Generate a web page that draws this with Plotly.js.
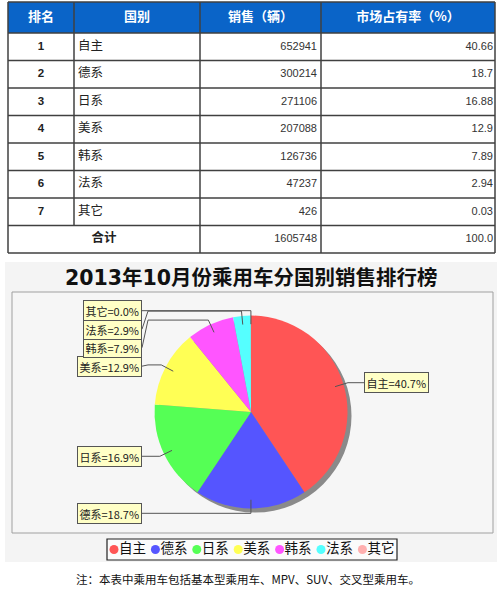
<!DOCTYPE html>
<html>
<head>
<meta charset="utf-8">
<script src="https://cdn.plot.ly/plotly-3.0.1.min.js"></script>
<style>
html, body { margin: 0; padding: 0; background: #fff; }
#chart { width: 500px; height: 591px; }
</style>
</head>
<body>
<div id="chart"></div>
<script>
// table + pie data
const headers = ['排名', '国别', '销售（辆）', '市场占有率（%）'];
const ranks = [1, 2, 3, 4, 5, 6, 7];
const countries = ['自主', '德系', '日系', '美系', '韩系', '法系', '其它'];
const sales = [652941, 300214, 271106, 207088, 126736, 47237, 426];
const shares = ['40.66', '18.7', '16.88', '12.9', '7.89', '2.94', '0.03'];
const totalLabel = '合计';
const totalSales = 1605748;
const totalShare = '100.0';
const chartTitle = '2013年10月份乘用车分国别销售排行榜';
const noteText = '注：本表中乘用车包括基本型乘用车、MPV、SUV、交叉型乘用车。';

const sliceColors = ['#ff5555', '#5555ff', '#55ff55', '#ffff55', '#ff55ff', '#55ffff', '#ffafaf'];
const cjk = '"Noto Sans CJK SC", sans-serif';
const num = '"Liberation Sans", "DejaVu Sans", sans-serif';

const W = 500, H = 591;

// ---- table geometry (pixel axis) ----
const colX = [8, 74, 200, 321, 495];
const headTop = 2, headBot = 33, rowH = 27.5;
const rowTop = i => headBot + i * rowH;
const rowMid = i => rowTop(i) + rowH / 2;
const lineCol = '#404040';

let shapes = [];
let traces = [];
let annotations = [];

shapes.push({type: 'rect', layer: 'below', xref: 'x', yref: 'y',
  x0: colX[0], x1: colX[4], y0: headTop, y1: headBot,
  fillcolor: '#0a64c8', line: {width: 0}});

for (let i = 0; i <= 8; i++) {
  const y = i === 0 ? headBot : rowTop(i);
  shapes.push({type: 'line', layer: 'below', xref: 'x', yref: 'y',
    x0: colX[0], x1: colX[4], y0: y, y1: y, line: {color: lineCol, width: 1.5}});
}
shapes.push({type: 'line', layer: 'below', xref: 'x', yref: 'y',
  x0: colX[0], x1: colX[4], y0: headTop, y1: headTop, line: {color: lineCol, width: 1.5}});
colX.forEach((x, k) => {
  shapes.push({type: 'line', layer: 'below', xref: 'x', yref: 'y',
    x0: x, x1: x, y0: headTop, y1: k === 1 ? rowTop(7) : rowTop(8),
    line: {color: lineCol, width: 1.5}});
});

const textTrace = (x, y, text, pos, font) => ({
  type: 'scatter', mode: 'text', x: x, y: y, text: text,
  textposition: pos, textfont: font, hoverinfo: 'skip',
  showlegend: false, cliponaxis: false
});

const rowsY = ranks.map((r, i) => rowMid(i));

traces.push(textTrace(
  headers.map((h, k) => (colX[k] + colX[k + 1]) / 2),
  headers.map(() => (headTop + headBot) / 2),
  headers, 'middle center',
  {family: cjk, size: 13, color: '#ffffff', weight: 'bold'}));

traces.push(textTrace(ranks.map(() => (colX[0] + colX[1]) / 2), rowsY,
  ranks.map(String), 'middle center',
  {family: num, size: 11.5, color: '#222', weight: 'bold'}));

traces.push(textTrace(countries.map(() => colX[1] + 4), rowsY,
  countries, 'middle right', {family: cjk, size: 12.5, color: '#222'}));

traces.push(textTrace([...sales, totalSales].map(() => colX[3] - 4),
  [...rowsY, rowMid(7)], [...sales, totalSales].map(String), 'middle left',
  {family: num, size: 11, color: '#333'}));

traces.push(textTrace([...shares, totalShare].map(() => colX[4] - 2),
  [...rowsY, rowMid(7)], [...shares, totalShare], 'middle left',
  {family: num, size: 11, color: '#333'}));

traces.push(textTrace([(colX[0] + colX[2]) / 2], [rowMid(7)], [totalLabel],
  'middle center', {family: cjk, size: 12.5, color: '#222', weight: 'bold'}));

// ---- chart panel ----
shapes.push({type: 'rect', layer: 'below', xref: 'x', yref: 'y',
  x0: 5, x1: 497, y0: 262, y1: 562, fillcolor: '#f4f4f4', line: {width: 0}});
shapes.push({type: 'rect', layer: 'below', xref: 'x', yref: 'y',
  x0: 12, x1: 493, y0: 292, y1: 533, fillcolor: '#f6f6f6',
  line: {color: '#a0a0a0', width: 1}});

annotations.push({xref: 'x', yref: 'y', x: 251, y: 278, text: chartTitle,
  showarrow: false, font: {family: '"DejaVu Sans", ' + cjk, size: 20.5, color: '#111', weight: 'bold'}});

// pie
const cx = 251, cy = 412, R = 96.5, sh = 4;
const dom = (x, y) => ({
  x: [(x - R) / W, (x + R) / W],
  y: [1 - (y + R) / H, 1 - (y - R) / H]
});
traces.push({type: 'pie', values: [totalSales], labels: ['shadow'],
  marker: {colors: ['#8a8a8a'], line: {width: 0}}, textinfo: 'none',
  hoverinfo: 'skip', showlegend: false, sort: false, domain: dom(cx + sh, cy + sh)});
traces.push({type: 'pie', values: sales, labels: countries, sort: false,
  direction: 'clockwise', rotation: 0, textinfo: 'none', hoverinfo: 'skip',
  showlegend: false, marker: {colors: sliceColors, line: {width: 0}},
  domain: dom(cx, cy)});

// slice labels with JFreeChart-like links
const total = sales.reduce((a, b) => a + b, 0);
let cum = 0;
const labelRecs = sales.map((v, i) => {
  const th = (cum + v / 2) / total * 2 * Math.PI;
  cum += v;
  const pt = k => [cx + k * R * Math.sin(th), cy - k * R * Math.cos(th)];
  return {i: i, left: Math.sin(th) < 0, link: pt(0.91), elbow: pt(1.05),
    text: countries[i] + '=' + (v / total * 100).toFixed(1) + '%'};
});
const gapY = 18.5;
[true, false].forEach(side => {
  const recs = labelRecs.filter(r => r.left === side).sort((a, b) => a.elbow[1] - b.elbow[1]);
  let prev = -1e9;
  recs.forEach(r => { r.y = Math.max(r.elbow[1], prev + gapY); prev = r.y; });
});
labelRecs.forEach(r => {
  const anchorX = r.left ? 148 : 356;
  const boxX = r.left ? 142 : 364;
  shapes.push({type: 'path', layer: 'above', xref: 'x', yref: 'y',
    path: `M${r.link[0]},${r.link[1]} L${r.elbow[0]},${r.elbow[1]} L${anchorX},${r.elbow[1]} L${boxX},${r.y}`,
    line: {color: '#555', width: 1}});
  annotations.push({xref: 'x', yref: 'y', x: boxX, y: r.y, text: r.text,
    xanchor: r.left ? 'right' : 'left', showarrow: false,
    bgcolor: '#ffffc6', bordercolor: '#555', borderwidth: 1, borderpad: 1.5,
    font: {family: cjk, size: 11, color: '#222'}});
});

// legend with round markers
shapes.push({type: 'rect', layer: 'below', xref: 'x', yref: 'y',
  x0: 107, x1: 397, y0: 539, y1: 560, fillcolor: '#fbfbfb',
  line: {color: '#222', width: 1.2}});
const legX = countries.map((c, i) => 114 + i * 41.4);
const legY = countries.map(() => 549.5);
traces.push({type: 'scatter', mode: 'markers', x: legX, y: legY,
  marker: {size: 9, color: sliceColors, line: {width: 0}},
  hoverinfo: 'skip', showlegend: false, cliponaxis: false});
traces.push(textTrace(legX.map(x => x + 5), legY, countries, 'middle right',
  {family: cjk, size: 13.5, color: '#111'}));

annotations.push({xref: 'x', yref: 'y', x: 248, y: 579, text: noteText,
  showarrow: false, font: {family: cjk, size: 11.5, color: '#111'}});

const layout = {
  width: W, height: H,
  margin: {l: 0, r: 0, t: 0, b: 0},
  paper_bgcolor: '#ffffff', plot_bgcolor: 'rgba(0,0,0,0)',
  xaxis: {range: [0, W], visible: false, fixedrange: true},
  yaxis: {range: [H, 0], visible: false, fixedrange: true},
  showlegend: false,
  shapes: shapes,
  annotations: annotations
};

Plotly.newPlot('chart', traces, layout, {staticPlot: true});
</script>
</body>
</html>
